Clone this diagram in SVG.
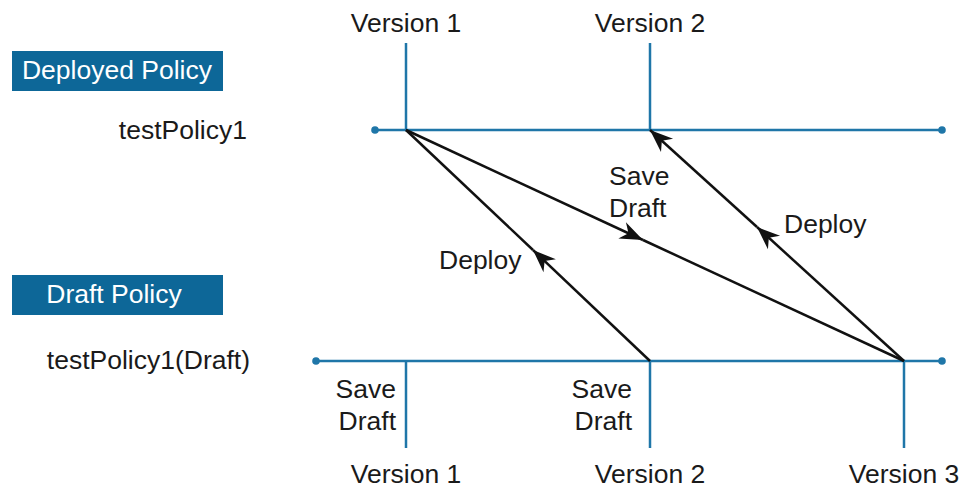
<svg xmlns="http://www.w3.org/2000/svg" width="964" height="488" viewBox="0 0 964 488">
<defs>
<style>
.t{font-family:"Liberation Sans",Arial,sans-serif;font-size:26.5px;fill:#1a1a1a}
.w{font-family:"Liberation Sans",Arial,sans-serif;font-size:26.5px;fill:#ffffff}
.bl{stroke:#1f76a8;stroke-width:2.5;fill:none}
.ar{stroke:#111;stroke-width:2.5;fill:none}
.dot{fill:#1f76a8}
.box{fill:#0d6798}
</style>
<marker id="ah" markerUnits="userSpaceOnUse" markerWidth="26" markerHeight="22" viewBox="-24 -11 26 22" refX="0" refY="0" orient="auto">
<path d="M0,0 L-23,-9 L-16,0 L-23,9 Z" fill="#111"/>
</marker>
</defs>
<rect width="964" height="488" fill="#ffffff"/>
<g id="deployed-policy">
<rect class="box" x="12" y="51" width="211" height="40"/>
<text class="w" x="117" y="79" text-anchor="middle">Deployed Policy</text>
</g>
<g id="draft-policy">
<rect class="box" x="12" y="275" width="211" height="40"/>
<text class="w" x="114" y="303" text-anchor="middle">Draft Policy</text>
</g>
<g id="deployed-timeline">
<text class="t" x="247" y="139" text-anchor="end">testPolicy1</text>
<line class="bl" x1="375" y1="130" x2="942" y2="130"/>
<circle class="dot" cx="375" cy="130" r="3.8"/>
<circle class="dot" cx="942" cy="130" r="3.8"/>
</g>
<g id="draft-timeline">
<text class="t" x="250" y="369" text-anchor="end">testPolicy1(Draft)</text>
<line class="bl" x1="316" y1="361" x2="942" y2="361"/>
<circle class="dot" cx="316" cy="361" r="3.8"/>
<circle class="dot" cx="942" cy="361" r="3.8"/>
</g>
<g id="deployed-v1">
<line class="bl" x1="406" y1="43" x2="406" y2="130"/>
<text class="t" x="406" y="32" text-anchor="middle">Version 1</text>
</g>
<g id="deployed-v2">
<line class="bl" x1="650" y1="43" x2="650" y2="130"/>
<text class="t" x="650" y="32" text-anchor="middle">Version 2</text>
</g>
<g id="draft-v1">
<line class="bl" x1="406" y1="361" x2="406" y2="448"/>
<text class="t" x="396" y="398" text-anchor="end">Save</text>
<text class="t" x="396" y="430" text-anchor="end">Draft</text>
<text class="t" x="406" y="483" text-anchor="middle">Version 1</text>
</g>
<g id="draft-v2">
<line class="bl" x1="650" y1="361" x2="650" y2="448"/>
<text class="t" x="632" y="398" text-anchor="end">Save</text>
<text class="t" x="632" y="430" text-anchor="end">Draft</text>
<text class="t" x="650" y="483" text-anchor="middle">Version 2</text>
</g>
<g id="draft-v3">
<line class="bl" x1="904" y1="361" x2="904" y2="448"/>
<text class="t" x="904" y="483" text-anchor="middle">Version 3</text>
</g>
<g id="connectors">
<line class="ar" x1="406" y1="130" x2="643" y2="240" marker-end="url(#ah)"/>
<line class="ar" x1="643" y1="240" x2="904" y2="361"/>
<line class="ar" x1="650" y1="361" x2="533" y2="250" marker-end="url(#ah)"/>
<line class="ar" x1="533" y1="250" x2="406" y2="130"/>
<line class="ar" x1="904" y1="361" x2="757" y2="227" marker-end="url(#ah)"/>
<line class="ar" x1="757" y1="227" x2="650" y2="130" marker-end="url(#ah)"/>
<text class="t" x="609" y="185">Save</text>
<text class="t" x="609" y="217">Draft</text>
<text class="t" x="784" y="233">Deploy</text>
<text class="t" x="439" y="269">Deploy</text>
</g>
</svg>
